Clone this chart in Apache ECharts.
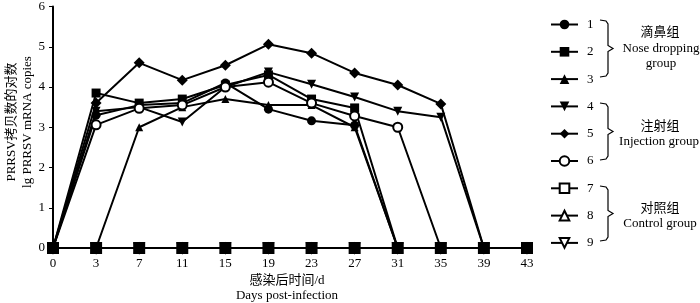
<!DOCTYPE html>
<html><head><meta charset="utf-8">
<script src="https://cdn.jsdelivr.net/npm/echarts@6/dist/echarts.min.js"></script>
<style>html,body{margin:0;padding:0;background:#fff}#c{width:700px;height:303px}</style>
</head><body><div id="c"></div>
<script>
const days = ['0','3','7','11','15','19','23','27','31','35','39','43'];
const s1 = [0, 3.3, 3.55, 3.6, 4.1, 3.45, 3.16, 3.05, 0];
const s2 = [0, 3.85, 3.6, 3.7, 4.05, 4.3, 3.7, 3.48, 0];
const s3 = [0, 0, 3.0, 3.5, 3.7, 3.55, 3.55, 3.0, 0];
const s4 = [0, 3.4, 3.5, 3.13, 4.0, 4.37, 4.07, 3.75, 3.4, 3.25, 0];
const s5 = [0, 3.6, 4.6, 4.17, 4.54, 5.06, 4.84, 4.35, 4.05, 3.58, 0];
const s6 = [0, 3.06, 3.47, 3.55, 4.0, 4.12, 3.6, 3.28, 3.0, 0];
const s7 = [0, 0, 0, 0, 0, 0, 0, 0, 0, 0, 0, 0];
const s8 = [0, 0, 0, 0, 0, 0, 0, 0, 0, 0, 0, 0];
const s9 = [0, 0, 0, 0, 0, 0, 0, 0, 0, 0, 0, 0];
const names = ['1','2','3','4','5','6','7','8','9'];
const yTicks = [0, 6, 1];

const serif = '"Liberation Serif","Noto Sans CJK SC",serif';
const chart = echarts.init(document.getElementById('c'));
function mk(name, data, symbol, size, open, extra) {
  return Object.assign({
    name, type: 'line', data, symbol, symbolSize: size, showSymbol: true,
    lineStyle: {color: '#000', width: 2},
    itemStyle: {color: open ? '#fff' : '#000', borderColor: '#000', borderWidth: open ? 2 : 0},
    animation: false
  }, extra || {});
}
const tri = 'triangle';
const tdown = 'path://M0,0 L10,0 L5,9 Z';
const series = [
  mk('1', s1, 'circle', 9, false),
  mk('2', s2, 'rect', 9, false),
  mk('3', s3, tri, 8, false),
  mk('4', s4, tdown, 9, false),
  mk('5', s5, 'diamond', 11, false),
  mk('6', s6, 'circle', 9, true),
  mk('8', s8, tri, 8, true),
  mk('9', s9, tdown, 9, true),
  mk('7', s7, 'rect', 12, false, {z: 5}),
];
const legendData = names.map(n => {
  if (n === '7') return {name: n, itemStyle: {color: '#fff', borderColor: '#000', borderWidth: 2}};
  return {name: n};
});
function brace(y1, y2) {
  const x = 608, m = (y1 + y2) / 2;
  return {type: 'polyline', shape: {points: [[600, y1], [606, y1 + 1], [x, y1 + 4], [x, m - 3], [613, m], [x, m + 3], [x, y2 - 4], [606, y2 - 1], [600, y2]]},
    style: {stroke: '#000', lineWidth: 1.2, fill: null}};
}
function txt(x, y, t, rot) {
  return {type: 'text', x, y, rotation: rot || 0,
    style: {text: t, font: '13px ' + serif, fill: '#000', textAlign: 'center', textVerticalAlign: 'middle'}};
}
chart.setOption({
  animation: false,
  grid: {left: 53, right: 173, top: 5, bottom: 55},
  xAxis: {type: 'category', data: days, boundaryGap: false,
    axisLine: {lineStyle: {color: '#000', width: 2}},
    axisTick: {alignWithLabel: true, length: 4, lineStyle: {color: '#000'}},
    axisLabel: {color: '#000', fontFamily: serif, fontSize: 13, margin: 9}},
  yAxis: {type: 'value', min: yTicks[0], max: yTicks[1], interval: yTicks[2],
    splitLine: {show: false},
    axisLine: {show: true, lineStyle: {color: '#000', width: 2}},
    axisTick: {show: true, length: 4, lineStyle: {color: '#000'}},
    axisLabel: {color: '#000', fontFamily: serif, fontSize: 13, margin: 8}},
  legend: {orient: 'vertical', left: 545, top: 13, itemWidth: 27, itemHeight: 12, itemGap: 14.3,
    data: legendData, selectedMode: false,
    textStyle: {color: '#000', fontFamily: serif, fontSize: 13, padding: [0, 0, 0, 4]}},
  series,
  graphic: [
    brace(20, 77), brace(103, 160), brace(186, 241),
    txt(660, 33, '滴鼻组'), txt(661, 49, 'Nose dropping'), txt(661, 64, 'group'),
    txt(660, 127, '注射组'), txt(659, 142, 'Injection group'),
    txt(660, 209, '对照组'), txt(660, 224, 'Control group'),
    txt(287, 281, '感染后时间/d'), txt(287, 296, 'Days post-infection'),
    txt(12, 122, 'PRRSV拷贝数的对数', Math.PI / 2), txt(28, 122, 'lg PRRSV mRNA copies', Math.PI / 2)
  ]
});
</script></body></html>
